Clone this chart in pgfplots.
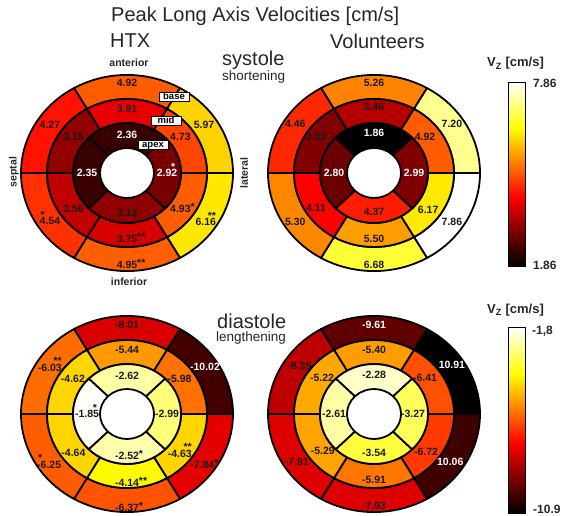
\documentclass[border=0pt]{standalone}
\usepackage{fontspec}
\setmainfont{Liberation Sans}
\usepackage{pgfplots}
\pgfplotsset{compat=1.18}
\usepackage{pgfplotstable}

\pgfplotsset{colormap={myhot}{rgb(0cm)=(0,0,0) rgb(3cm)=(1,0,0) rgb(6cm)=(1,1,0) rgb(8cm)=(1,1,1)}}

\newcommand\seglab[2]{%
  \ifcase#2\relax #1%
  \or #1\rlap{\smash{\raisebox{1.5pt}{*}}}%
  \or #1\rlap{\smash{\raisebox{1.5pt}{**}}}%
  \or #1\llap{\smash{\raisebox{6.5pt}{*}}\hspace{2pt}}%
  \or #1\llap{\smash{\raisebox{6.5pt}{**}}}%
  \or \rlap{\hspace{1pt}\smash{\raisebox{6.5pt}{*}}}#1%
  \fi}
\newcommand\labfont{\fontsize{10.5}{12}\selectfont\bfseries}

\pgfdeclareplotmark{seg}{%
  \pgftransformyscale{0.925}%
  \pgftransformshift{\pgfpointpolar{\sgL}{-\sgM pt}}%
  \pgfpathmoveto{\pgfpointpolar{\sgA}{\sgR pt}}%
  \pgfpatharc{\sgA}{\sgB}{\sgR pt}%
  \pgfpathlineto{\pgfpointpolar{\sgB}{\sgS pt}}%
  \pgfpatharc{\sgB}{\sgA}{\sgS pt}%
  \pgfpathclose
  \pgfusepathqfillstroke}
\pgfdeclareplotmark{lbl}{%
  \pgfmathtruncatemacro\sgk{round(\sgK)}%
  \pgfmathtruncatemacro\sgc{round(\sgC)}%
  \pgftext{\ifnum\sgc=1 \color{white}\else\color{black!90}\fi\labfont
    \seglab{\pgfmathprintnumber[fixed,fixed zerofill,precision=2,assume math mode=true]{\sgT}}{\sgk}}}

\pgfplotsset{
  segplot/.style={scatter, only marks, mark=seg, point meta=explicit,
    scatter/use mapped color={draw=black, fill=mapped color},
    mark options={line width=1.8pt, line join=round},
    visualization depends on={\thisrow{a1}\as\sgA},
    visualization depends on={\thisrow{a2}\as\sgB},
    visualization depends on={\thisrow{r1}\as\sgR},
    visualization depends on={\thisrow{r2}\as\sgS},
    visualization depends on={\thisrow{la}\as\sgL},
    visualization depends on={\thisrow{lr}\as\sgM}},
  lblplot/.style={scatter, only marks, mark=lbl, point meta=explicit,
    visualization depends on={\thisrow{lab}\as\sgT},
    visualization depends on={\thisrow{st}\as\sgK},
    visualization depends on={\thisrow{col}\as\sgC}},
  bull/.style={anchor=center, x=1pt, y=1pt, xmin=-110, xmax=110,
    ymin=-110, ymax=110, hide axis, clip=false, colormap name=myhot},
  cbar/.style={anchor=north west, scale only axis, width=17pt, xmin=0, xmax=1,
    xtick=\empty, ytick=\empty, axis on top, axis line style={line width=0.9pt},
    colormap name=myhot},
}

% columns: a1 a2 = segment angles, r1 r2 = radii, la lr = label position,
% v = value (colour), lab = printed value, st = star code, col = 1 for white text
\pgfplotstableread{
a1 a2 r1 r2 la lr v lab st col
60 120 80 106 90 97 4.92 4.92 0 0
0 60 80 106 34 93 5.97 5.97 0 0
-60 0 80 106 -34 95 6.16 6.16 4 0
-120 -60 80 106 -90 99 4.95 4.95 2 0
180 240 80 106 214 93 4.54 4.54 5 0
120 180 80 106 146 93 4.27 4.27 0 0
60 120 54 80 90 69 3.91 3.91 0 0
0 60 54 80 36 66 4.73 4.73 0 0
-60 0 54 80 -36 66 4.93 4.93 1 0
-120 -60 54 80 -90 71 3.75 3.75 2 0
180 240 54 80 216 66 3.56 3.56 0 0
120 180 54 80 144 66 3.15 3.15 0 0
45 135 27 54 90 41 2.36 2.36 0 1
135 225 27 54 180 40 2.35 2.35 0 1
225 315 27 54 270 43 3.13 3.13 0 0
-45 45 27 54 0 40 2.92 2.92 3 1
}\hs

\pgfplotstableread{
a1 a2 r1 r2 la lr v lab st col
60 120 80 106 90 97 5.26 5.26 0 0
0 60 80 106 34 94 7.20 7.20 0 0
-60 0 80 106 -34 94 7.86 7.86 0 0
-120 -60 80 106 -90 99 6.68 6.68 0 0
180 240 80 106 214 95 5.30 5.30 0 0
120 180 80 106 146 95 4.46 4.46 0 0
60 120 54 80 90 71 3.46 3.46 0 0
0 60 54 80 37 64 4.92 4.92 0 0
-60 0 54 80 -36 67 6.17 6.17 0 0
-120 -60 54 80 -90 71 5.50 5.50 0 0
180 240 54 80 213 69 4.11 4.11 0 0
120 180 54 80 146 70 3.02 3.02 0 0
45 135 27 54 90 43 1.86 1.86 0 1
135 225 27 54 180 40 2.80 2.80 0 1
225 315 27 54 270 42 4.37 4.37 0 0
-45 45 27 54 0 40 2.99 2.99 0 1
}\vs

\pgfplotstableread{
a1 a2 r1 r2 la lr v lab st col
60 120 80 106 90 96 -8.01 -8.01 0 0
0 60 80 106 33 93 -10.02 -10.02 0 1
-60 0 80 106 -36 93 -7.84 -7.84 1 0
-120 -60 80 106 -90 101 -6.37 -6.37 1 0
180 240 80 106 215 95 -6.25 -6.25 5 0
120 180 80 106 147 92 -6.03 -6.03 4 0
60 120 54 80 90 69 -5.44 -5.44 0 0
0 60 54 80 36 65 -5.98 -5.98 0 0
-60 0 54 80 -39 68 -4.63 -4.63 4 0
-120 -60 54 80 -90 74 -4.14 -4.14 2 0
180 240 54 80 218 68 -4.64 -4.64 0 0
120 180 54 80 145 66 -4.62 -4.62 0 0
45 135 27 54 90 41 -2.62 -2.62 0 0
135 225 27 54 180 40 -1.85 -1.85 3 0
225 315 27 54 270 45 -2.52 -2.52 1 0
-45 45 27 54 0 40 -2.99 -2.99 0 0
}\hd

\pgfplotstableread{
a1 a2 r1 r2 la lr v lab st col
60 120 80 106 90 96 -9.61 -9.61 0 1
0 60 80 106 34 94 -10.91 10.91 0 1
-60 0 80 106 -34 92 -10.06 10.06 0 1
-120 -60 80 106 -90 99 -7.93 -7.93 0 0
180 240 80 106 214 93 -7.91 -7.91 0 0
120 180 80 106 145 91 -8.35 -8.35 0 0
60 120 54 80 90 69 -5.40 -5.40 0 0
0 60 54 80 37 64 -6.41 -6.41 0 0
-60 0 54 80 -38 66 -6.72 -6.72 0 0
-120 -60 54 80 -90 71 -5.91 -5.91 0 0
180 240 54 80 218 65 -5.29 -5.29 0 0
120 180 54 80 143 65 -5.22 -5.22 0 0
45 135 27 54 90 42 -2.28 -2.28 0 0
135 225 27 54 180 40 -2.61 -2.61 0 0
225 315 27 54 270 42 -3.54 -3.54 0 0
-45 45 27 54 0 39 -3.27 -3.27 0 0
}\vd

\newcommand\bull[5]{% table, cx, cy, min, max
  \begin{axis}[bull, at={(#2pt,-#3pt)}, point meta min=#4, point meta max=#5]
    \addplot[segplot] table[x expr={\thisrow{lr}*cos(\thisrow{la})},
      y expr={0.925*\thisrow{lr}*sin(\thisrow{la})}, meta=v] {#1};
    \addplot[lblplot] table[x expr={\thisrow{lr}*cos(\thisrow{la})},
      y expr={0.925*\thisrow{lr}*sin(\thisrow{la})}, meta=v] {#1};
  \end{axis}}

\begin{document}
\begin{tikzpicture}
\bull{\hs}{127}{173}{1.86}{7.86}
\bull{\vs}{374}{173}{1.86}{7.86}
\bull{\hd}{127}{414}{-10.9}{-1.8}
\bull{\vd}{374}{414}{-10.9}{-1.8}

\begin{axis}[cbar, at={(508pt,-82pt)}, height=184pt, ymin=1.86, ymax=7.86,
  point meta min=1.86, point meta max=7.86]
  \addplot[surf, shader=interp, point meta=y, mesh/cols=2] coordinates
    {(0,1.86) (1,1.86) (0,4.11) (1,4.11) (0,6.36) (1,6.36) (0,7.86) (1,7.86)};
\end{axis}
\begin{axis}[cbar, at={(508pt,-327pt)}, height=186pt, ymin=-10.9, ymax=-1.8,
  point meta min=-10.9, point meta max=-1.8]
  \addplot[surf, shader=interp, point meta=y, mesh/cols=2] coordinates
    {(0,-10.9) (1,-10.9) (0,-7.4875) (1,-7.4875) (0,-4.075) (1,-4.075) (0,-1.8) (1,-1.8)};
\end{axis}

\begin{scope}[every node/.style={inner sep=0pt, text=black!85}]
\node[anchor=base west, font=\fontsize{20}{24}\selectfont] at (111pt,-22pt) {Peak Long Axis Velocities [cm/s]};
\node[anchor=base west, font=\fontsize{20}{24}\selectfont] at (110pt,-48pt) {HTX};
\node[anchor=base west, font=\fontsize{20}{24}\selectfont] at (330pt,-49pt) {Volunteers};
\node[anchor=base west, font=\fontsize{20}{24}\selectfont] at (222pt,-66pt) {systole};
\node[anchor=base west, font=\fontsize{13.5}{16}\selectfont] at (222pt,-81pt) {shortening};
\node[anchor=base west, font=\fontsize{20}{24}\selectfont] at (217pt,-328pt) {diastole};
\node[anchor=base west, font=\fontsize{13.5}{16}\selectfont] at (216pt,-341pt) {lengthening};
\node[font=\fontsize{10.5}{12}\selectfont\bfseries] at (129pt,-63pt) {anterior};
\node[font=\fontsize{10.5}{12}\selectfont\bfseries] at (129pt,-282pt) {inferior};
\node[font=\fontsize{10.5}{12}\selectfont\bfseries, rotate=90] at (14pt,-172pt) {septal};
\node[font=\fontsize{10.5}{12}\selectfont\bfseries, rotate=90] at (244pt,-173pt) {lateral};
\node[anchor=base west, font=\fontsize{13}{15}\selectfont\bfseries] at (487pt,-67pt) {V\textsubscript{Z} [cm/s]};
\node[anchor=base west, font=\fontsize{13}{15}\selectfont\bfseries] at (487pt,-313pt) {V\textsubscript{Z} [cm/s]};
\node[anchor=west, font=\fontsize{12}{14}\selectfont\bfseries] at (533pt,-83.5pt) {7.86};
\node[anchor=west, font=\fontsize{12}{14}\selectfont\bfseries] at (533pt,-265pt) {1.86};
\node[anchor=west, font=\fontsize{12}{14}\selectfont\bfseries] at (532pt,-331pt) {-1,8};
\node[anchor=west, font=\fontsize{12}{14}\selectfont\bfseries] at (533pt,-509pt) {-10.9};
\end{scope}
\begin{scope}[every node/.style={draw=black, fill=white, line width=0.6pt, inner sep=0.6pt,
   minimum width=30pt, text height=6.6pt, text depth=1.6pt, font=\fontsize{9.5}{11}\selectfont\bfseries}]
\node at (174pt,-97pt) {base};
\node at (166pt,-121pt) {mid};
\node at (153pt,-145pt) {apex};
\end{scope}

\pgfresetboundingbox
\path[use as bounding box] (0pt,0pt) rectangle (575pt,-516pt);
\end{tikzpicture}
\end{document}
